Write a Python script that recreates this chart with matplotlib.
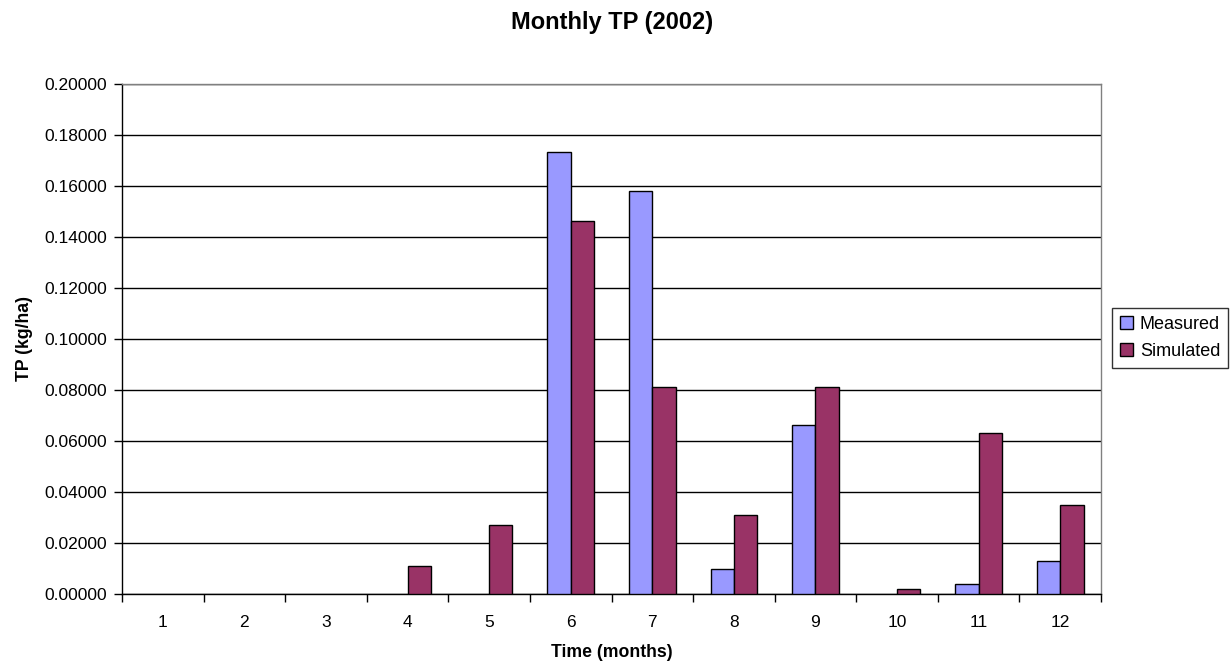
import matplotlib
matplotlib.use("Agg")
import matplotlib.pyplot as plt
import numpy as np
from matplotlib.patches import Patch
from matplotlib.ticker import FormatStrFormatter, MultipleLocator

plt.rcParams['font.family'] = ['Liberation Sans', 'DejaVu Sans']

months = ["1", "2", "3", "4", "5", "6", "7", "8", "9", "10", "11", "12"]
measured = [0.0, 0.0, 0.0, 0.0, 0.0, 0.1732, 0.1580, 0.0098, 0.0664, 0.0, 0.0039, 0.0128]
simulated = [0.0, 0.0, 0.0, 0.0109, 0.0272, 0.1462, 0.0811, 0.0311, 0.0811, 0.0020, 0.0629, 0.0350]

fig = plt.figure(figsize=(12.32, 6.68), dpi=100)
ax = fig.add_axes([0.099, 0.111, 0.7947, 0.7633])

x = np.arange(len(months))
w = 1.0 / 3.5
c_meas = "#9999FF"
c_sim = "#993366"


def edge_widths(values):
    # empty months get no outline
    return [1.0 if v > 0 else 0.0 for v in values]


ax.bar(x - w / 2, measured, width=w, color=c_meas, edgecolor="black",
       linewidth=edge_widths(measured), zorder=3)
ax.bar(x + w / 2, simulated, width=w, color=c_sim, edgecolor="black",
       linewidth=edge_widths(simulated), zorder=3)

ax.set_xlim(-0.5, len(months) - 0.5)
ax.set_ylim(0, 0.2)
ax.yaxis.set_major_locator(MultipleLocator(0.02))
ax.yaxis.set_major_formatter(FormatStrFormatter("%.5f"))
ax.yaxis.grid(True, color="black", linewidth=1.0, zorder=0)

# category labels centered, tick marks between categories
ax.set_xticks(x)
ax.set_xticklabels(months)
ax.tick_params(axis="x", length=0, labelsize=12.5, pad=15)
ax.set_xticks(np.arange(-0.5, len(months) + 0.5, 1.0), minor=True)
ax.tick_params(axis="x", which="minor", length=6, width=1, direction="out")
ax.tick_params(axis="y", length=6, width=1, direction="out", labelsize=12.5, pad=5)

for side in ("top", "right"):
    ax.spines[side].set_color("#808080")
    ax.spines[side].set_linewidth(1.0)
for side in ("left", "bottom"):
    ax.spines[side].set_color("black")
    ax.spines[side].set_linewidth(1.0)

ax.set_xlabel("Time (months)", fontsize=12.7, fontweight="bold", labelpad=10)
ax.set_ylabel("TP (kg/ha)", fontsize=12.7, fontweight="bold", labelpad=8)
fig.text(0.497, 0.967, "Monthly TP (2002)", ha="center", va="center",
         fontsize=17, fontweight="bold")

handles = [Patch(facecolor=c_meas, edgecolor="black", linewidth=1.0, label="Measured"),
           Patch(facecolor=c_sim, edgecolor="black", linewidth=1.0, label="Simulated")]
leg = ax.legend(handles=handles, loc="center left", bbox_to_anchor=(1.011, 0.502),
                frameon=True, fancybox=False, edgecolor="black", fontsize=13,
                handlelength=0.7, handleheight=0.7, handletextpad=0.4,
                borderpad=0.45, labelspacing=0.55, borderaxespad=0)
leg.get_frame().set_linewidth(1.0)

fig.savefig("out.png", dpi=100, facecolor="white")
